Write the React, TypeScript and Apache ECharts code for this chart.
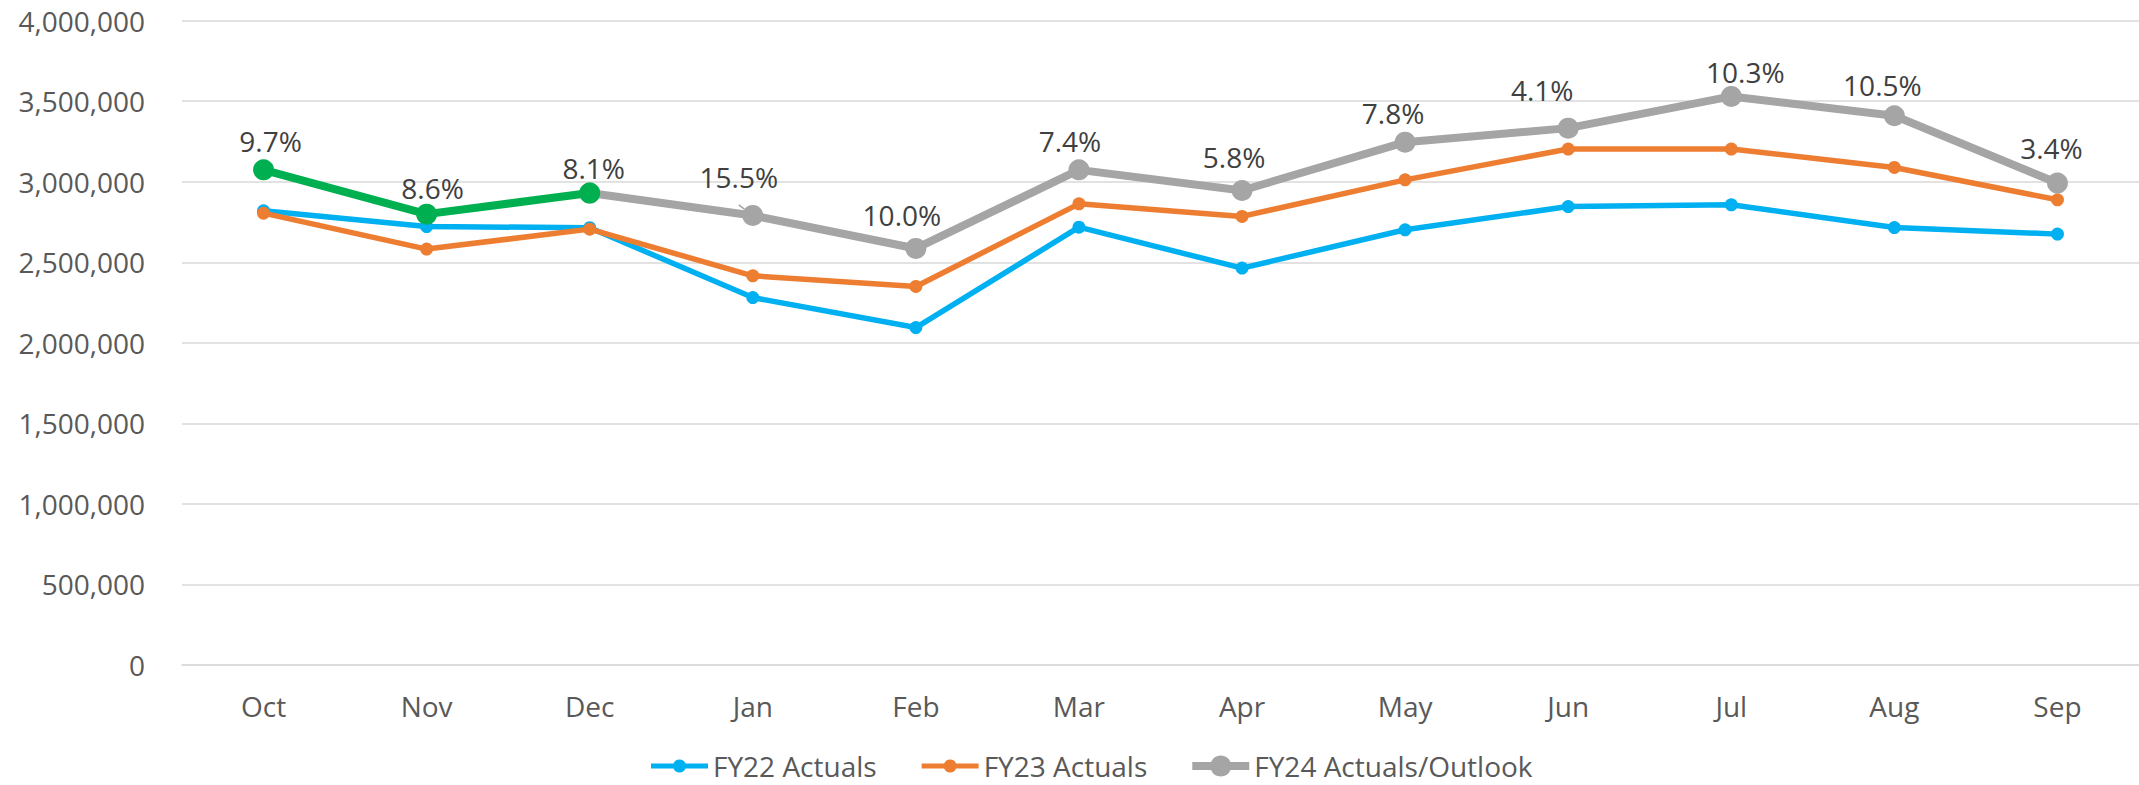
import React, { useEffect, useRef } from "react";
import * as echarts from "echarts";

const months = ["Oct", "Nov", "Dec", "Jan", "Feb", "Mar", "Apr", "May", "Jun", "Jul", "Aug", "Sep"];
const fy22 = [2820000, 2722000, 2715000, 2281000, 2095000, 2718000, 2464000, 2702000, 2846000, 2857000, 2716000, 2675000];
const fy23 = [2805000, 2582000, 2706000, 2416000, 2350000, 2863000, 2785000, 3012000, 3203000, 3203000, 3089000, 2888000];
const fy24Actual: (number | null)[] = [3074000, 2799000, 2930000, null, null, null, null, null, null, null, null, null];
const fy24Outlook: (number | null)[] = [null, null, 2930000, 2791000, 2586000, 3074000, 2946000, 3246000, 3333000, 3530000, 3410000, 2992000];
const growthLabels = ["9.7%", "8.6%", "8.1%", "15.5%", "10.0%", "7.4%", "5.8%", "7.8%", "4.1%", "10.3%", "10.5%", "3.4%"];
const yTicks = { min: 0, max: 4000000, interval: 500000 };

// label nudges (px) relative to a centered "top" label
const labelDx = [7, 6, 4, -14, -14, -9, -8, -12, -26, 14, -12, -6];
const labelDy = [0, 2, 3, -10, -5, 0, -5, -1, -10, 4, -2, -7];
const leader = [false, false, false, true, false, false, false, false, true, false, false, true];

const FONT = "'Open Sans', 'Noto Sans', sans-serif";

const BLUE = "#00B0F0";
const ORANGE = "#ED7D31";
const GRAY = "#A5A5A5";
const GREEN = "#00B050";

// legend icons: thick line with a circle marker in the middle
const ICON_THIN =
  "path://M0,4 L22.5,4 A6.5,6.5 0 0 1 34.5,4 L57,4 L57,9 L34.5,9 A6.5,6.5 0 0 1 22.5,9 L0,9 Z";
const ICON_THICK =
  "path://M0,6.5 L18.79,6.5 A10.5,10.5 0 0 1 38.21,6.5 L57,6.5 L57,14.5 L38.21,14.5 A10.5,10.5 0 0 1 18.79,14.5 L0,14.5 Z";

export default function App() {
  const ref = useRef<HTMLDivElement>(null);
  useEffect(() => {
    if (!ref.current) return;
    const chart = echarts.init(ref.current, undefined, { renderer: "svg" });

    const labelFor = (i: number) => ({
      show: true,
      position: "top",
      distance: 4,
      formatter: growthLabels[i],
      offset: [labelDx[i], labelDy[i]],
      fontSize: 28,
      fontFamily: FONT,
      color: "#404040",
    });

    const actualData = fy24Actual.map((v, i) =>
      v == null ? "-" : { value: v, label: labelFor(i) }
    );
    const outlookData = fy24Outlook.map((v, i) =>
      v == null
        ? "-"
        : i < 3
        ? { value: v }
        : {
            value: v,
            label: labelFor(i),
            labelLine: leader[i]
              ? { show: true, lineStyle: { color: GRAY, width: 1.5 } }
              : { show: false },
          }
    );

    chart.setOption({
      animation: false,
      backgroundColor: "#ffffff",
      textStyle: { fontFamily: FONT },
      grid: { left: 182, top: 20.7, height: 644.3, width: 1963.2, containLabel: false },
      legend: {
        data: [
          { name: "FY22 Actuals", icon: ICON_THIN },
          { name: "FY23 Actuals", icon: ICON_THIN },
          { name: "FY24 Actuals/Outlook", icon: ICON_THICK },
        ],
        left: 651,
        top: 752,
        padding: 0,
        itemWidth: 57,
        itemHeight: 21,
        itemGap: 45,
        symbolKeepAspect: true,
        textStyle: { fontSize: 28, color: "#595959", fontFamily: FONT },
      },
      xAxis: {
        type: "category",
        data: months,
        boundaryGap: true,
        axisLine: { show: true, lineStyle: { color: "#D9D9D9", width: 1.5 } },
        axisTick: { show: false },
        axisLabel: { fontSize: 28, color: "#595959", margin: 27, fontFamily: FONT },
      },
      yAxis: {
        type: "value",
        min: yTicks.min,
        max: yTicks.max,
        interval: yTicks.interval,
        axisLine: { show: false },
        axisTick: { show: false },
        splitLine: { lineStyle: { color: "#D9D9D9", width: 1.5 } },
        axisLabel: {
          fontSize: 28,
          color: "#595959",
          margin: 37,
          fontFamily: FONT,
          formatter: (v: number) => v.toLocaleString("en-US"),
        },
      },
      series: [
        {
          name: "FY22 Actuals",
          type: "line",
          data: fy22,
          color: BLUE,
          symbol: "circle",
          symbolSize: 13,
          lineStyle: { width: 5.5, color: BLUE },
          itemStyle: { color: BLUE },
          z: 2,
        },
        {
          name: "FY23 Actuals",
          type: "line",
          data: fy23,
          color: ORANGE,
          symbol: "circle",
          symbolSize: 13,
          lineStyle: { width: 5.5, color: ORANGE },
          itemStyle: { color: ORANGE },
          z: 3,
        },
        {
          name: "FY24 Actuals/Outlook",
          type: "line",
          data: outlookData,
          color: GRAY,
          symbol: "circle",
          symbolSize: 21,
          lineStyle: { width: 8, color: GRAY },
          itemStyle: { color: GRAY },
          z: 4,
        },
        {
          name: "FY24 Actuals",
          type: "line",
          data: actualData,
          color: GREEN,
          symbol: "circle",
          symbolSize: 21,
          lineStyle: { width: 8, color: GREEN },
          itemStyle: { color: GREEN },
          z: 5,
        },
      ],
    });
    return () => chart.dispose();
  }, []);

  return (
    <div
      ref={ref}
      style={{ position: "fixed", left: 0, top: 0, width: 2139, height: 785, background: "#fff" }}
    />
  );
}
